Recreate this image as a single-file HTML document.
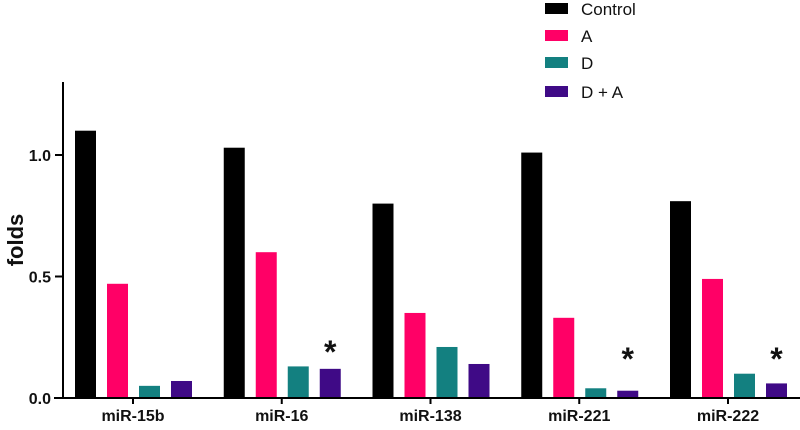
<!DOCTYPE html>
<html><head><meta charset="utf-8"><style>
body{margin:0;background:#fff;}
svg text{font-family:"Liberation Sans",Arial,sans-serif;}
</style></head><body>
<svg id="chart" width="800" height="425" viewBox="0 0 800 425" xmlns="http://www.w3.org/2000/svg">
<g id="bars"></g>
<g id="axes"></g>
<g id="legend"></g>
</svg>
<script>
const categories = ["miR-15b","miR-16","miR-138","miR-221","miR-222"];
const seriesNames = ["Control","A","D","D + A"];
const control = [1.10,1.03,0.80,1.01,0.81];
const seriesA = [0.47,0.60,0.35,0.33,0.49];
const seriesD = [0.05,0.13,0.21,0.04,0.10];
const seriesDA = [0.07,0.12,0.14,0.03,0.06];
const significant = [false,true,false,true,true];
const yTicks = [0,0.5,1.0];
const yTickLabels = ["0.0","0.5","1.0"];

const colors = ["#000000","#ff0066","#138080","#3f0a86"];
const NS="http://www.w3.org/2000/svg";
const y0=398, pxPerUnit=243;
function yScale(v){return y0 - v*pxPerUnit;}
function xCenter(i){return 133 + i*148.75;}
const offsets=[-58,-26,6,38], bw=21;
function mk(tag,attrs,parent){const e=document.createElementNS(NS,tag);for(const k in attrs)e.setAttribute(k,attrs[k]);parent.appendChild(e);return e;}
const gB=document.getElementById('bars'), gA=document.getElementById('axes'), gL=document.getElementById('legend');
const all=[control,seriesA,seriesD,seriesDA];
const keys=["control","a","d","d-a"];
categories.forEach((c,i)=>{
  all.forEach((s,j)=>{
    const r=mk('rect',{x:xCenter(i)+offsets[j],y:yScale(s[i]),width:bw,height:y0-yScale(s[i]),fill:colors[j]},gB);
    
    
  });
  if(significant[i]){
    const t=mk('text',{x:xCenter(i)+offsets[3]+bw/2,y:Math.min(yScale(seriesDA[i])-6,370),'text-anchor':'middle','font-size':'32','font-weight':'bold',fill:'#111'},gB);
    t.textContent='*';
    
    
  }
  const tk=mk('line',{x1:xCenter(i),x2:xCenter(i),y1:y0,y2:y0+6,stroke:'#000','stroke-width':2},gA);
  
  
  const lb=mk('text',{x:xCenter(i),y:421,'text-anchor':'middle','font-size':'16','font-weight':'bold',fill:'#111'},gA);
  lb.textContent=c;
  
  
});
const ya=mk('line',{x1:63,x2:63,y1:82,y2:y0+1,stroke:'#000','stroke-width':2},gA);


const xa=mk('line',{x1:54,x2:800,y1:y0,y2:y0,stroke:'#000','stroke-width':2},gA);


yTicks.forEach((v,k)=>{
  const l=mk('line',{x1:55,x2:63,y1:yScale(v),y2:yScale(v),stroke:'#000','stroke-width':2},gA);
  
  
  const t=mk('text',{x:51,y:yScale(v)+6,'text-anchor':'end','font-size':'16','font-weight':'bold',fill:'#111'},gA);
  t.textContent=yTickLabels[k];
  
  
});
const yt=mk('text',{x:0,y:0,transform:'translate(23,240) rotate(-90)','text-anchor':'middle','font-size':'22','font-weight':'bold',fill:'#111'},gA);
yt.textContent='folds';


const legY=[3,30,57,86];
seriesNames.forEach((n,j)=>{
  const r=mk('rect',{x:545,y:legY[j],width:23,height:11,fill:colors[j]},gL);
  
  
  const t=mk('text',{x:581,y:legY[j]+12,'font-size':'17',fill:'#111'},gL);
  t.textContent=n;
  
  
});
</script>
</body></html>
